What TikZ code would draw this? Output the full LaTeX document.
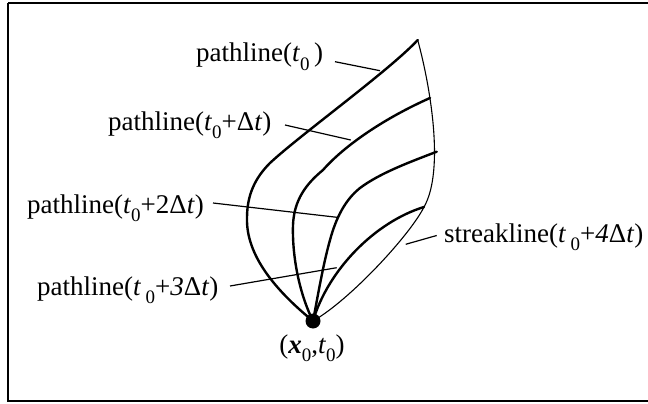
\documentclass[tikz,border=0pt]{standalone}
\usepackage{fontspec}
\setmainfont{Liberation Serif}
\newcommand\sbs[1]{\raisebox{-0.32em}{\fontsize{19}{19}\selectfont #1}}
\begin{document}
\begin{tikzpicture}[x=1pt,y=-1pt,
  thick curve/.style={line width=2.4pt, line join=round, line cap=round},
  thin curve/.style={line width=1.1pt, line cap=round},
  lead/.style={line width=1.2pt},
  lab/.style={anchor=base west, inner sep=0pt, font=\fontsize{27}{32}\selectfont}]
\useasboundingbox (0,0) rectangle (648,404);
\draw[line width=2.6pt] (8,3) -- (652,3) (8,3) -- (8,401) -- (652,401);

\node[circle, fill=black, inner sep=0pt, minimum size=15pt] (O) at (313,321) {};
\coordinate (A) at (417.7,40);
\coordinate (B) at (430,98);
\coordinate (C) at (436.7,151.7);
\coordinate (D) at (424,207);

% pathlines
\draw[thick curve] (O.center) .. controls (275,290) and (246,255) .. (247,218)
  .. controls (247,195) and (255,178) .. (270,163)
  .. controls (300,135) and (390,70) .. (A);
\draw[thick curve] (O.center) .. controls (300,295) and (292,258) .. (293,225)
  .. controls (294,200) and (306,184) .. (323,170)
  .. controls (345,145) and (385,118) .. (B);
\draw[thick curve] (O.center) .. controls (318,295) and (323,265) .. (330,240)
  .. controls (336,218) and (345,200) .. (360,188)
  .. controls (380,173) and (410,162) .. (C);
\draw[thick curve] (O.center) .. controls (328,270) and (375,222) .. (D);
% streakline
\draw[thin curve] (A) .. controls (430,85) and (445,170) .. (D)
  .. controls (410,235) and (350,300) .. (O.center);

% labels
\node[lab] (L0) at (196,62) {pathline(\textit{t}\sbs{0}\,)};
\node[lab] (L1) at (108,130) {pathline(\textit{t}\sbs{0}+Δ\textit{t})};
\node[lab] (L2) at (27,213) {pathline(\textit{t}\sbs{0}+2Δ\textit{t})};
\node[lab] (L3) at (37,295) {pathline(\textit{t}\,\sbs{0}+\textit{3}Δ\textit{t})};
\node[lab] (L4) at (444,242) {streakline(\textit{t}\,\sbs{0}+\textit{4}Δ\textit{t})};
\node[lab, anchor=base] (LO) at (312,353) {(\textbf{\textit{x}}\sbs{0},\textit{t}\sbs{0})};

% leaders
\coordinate (a0) at (335,61.7); \coordinate (b0) at (380,70.7);
\coordinate (a1) at (285,125); \coordinate (b1) at (350.7,140);
\coordinate (a2) at (213,203); \coordinate (b2) at (337,217.3);
\coordinate (a3) at (230,286); \coordinate (b3) at (336.7,267.7);
\coordinate (a4) at (436.7,235.5); \coordinate (b4) at (405.7,244.3);
\draw[lead] (a0) -- (b0);
\draw[lead] (a1) -- (b1);
\draw[lead] (a2) -- (b2);
\draw[lead] (a3) -- (b3);
\draw[lead] (a4) -- (b4);
\end{tikzpicture}
\end{document}
